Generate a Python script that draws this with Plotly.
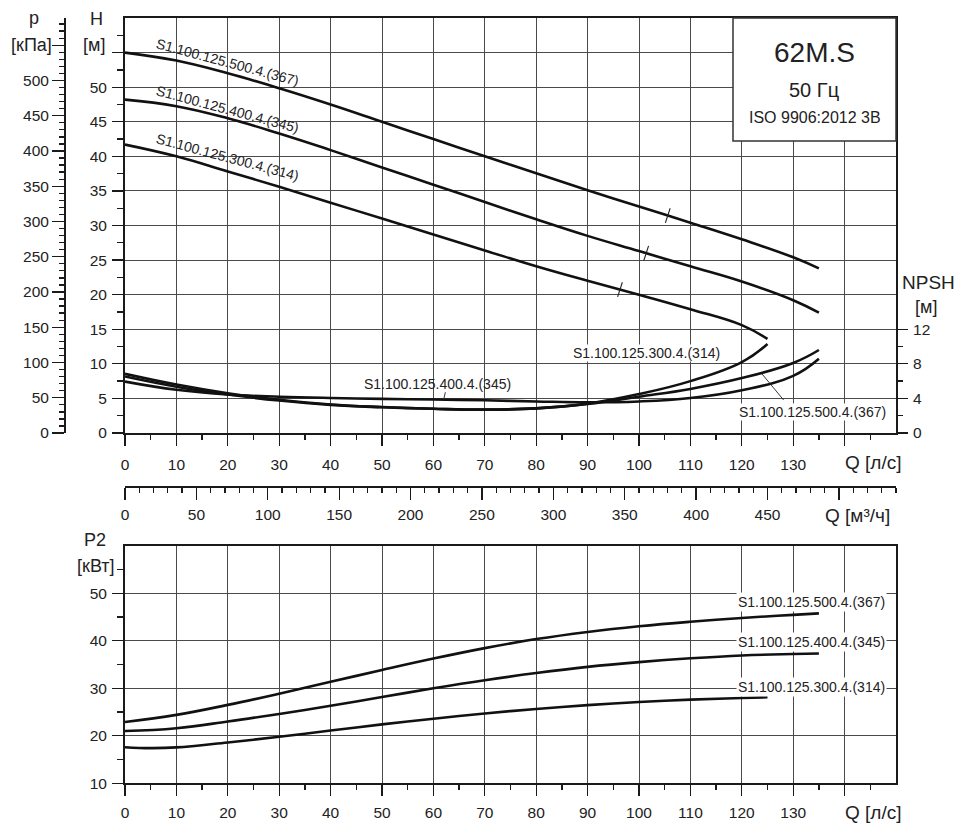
import numpy as np
import plotly.graph_objects as go

W, HGT = 959, 823
FONT = "Liberation Sans, Arial, sans-serif"
TXT = "#222222"
GRID = "#4a4a4a"
CURVE = "#111111"

# ---------------- data ----------------
curve_names = ["S1.100.125.500.4.(367)", "S1.100.125.400.4.(345)", "S1.100.125.300.4.(314)"]

# Flow rate Q [L/s]
q_300 = [0, 10, 20, 30, 40, 50, 60, 70, 80, 90, 100, 110, 120, 125]
q_big = [0, 10, 20, 30, 40, 50, 60, 70, 80, 90, 100, 110, 120, 130, 135]

# Head H [m]
h_500 = [55.0, 53.85, 52.0, 49.85, 47.5, 45.0, 42.5, 40.0, 37.55, 35.1, 32.75, 30.4, 28.0, 25.4, 23.8]
h_400 = [48.2, 47.25, 45.5, 43.3, 40.9, 38.4, 35.9, 33.4, 30.9, 28.5, 26.3, 24.1, 21.9, 19.2, 17.4]
h_300 = [41.7, 40.0, 37.8, 35.6, 33.3, 31.0, 28.7, 26.4, 24.1, 22.0, 20.0, 17.9, 15.6, 13.6]

# NPSH [m]
npsh_500 = [6.53, 5.35, 4.45, 3.75, 3.25, 2.98, 2.8, 2.7, 2.85, 3.35, 4.2, 5.1, 6.35, 8.1, 9.6]
npsh_400 = [5.95, 5.0, 4.45, 4.2, 4.05, 3.95, 3.87, 3.78, 3.65, 3.55, 3.65, 4.05, 4.95, 6.6, 8.58]
npsh_300 = [6.84, 5.6, 4.6, 3.85, 3.3, 3.0, 2.8, 2.7, 2.85, 3.4, 4.5, 6.0, 8.2, 10.3]

# Power P2 [kW]
q_p300 = [0, 5, 10, 20, 30, 40, 50, 60, 70, 80, 90, 100, 110, 120, 125]
p_300 = [17.6, 17.4, 17.55, 18.6, 19.8, 21.1, 22.4, 23.6, 24.7, 25.65, 26.45, 27.1, 27.6, 27.95, 28.1]
p_400 = [21.0, 21.6, 23.0, 24.6, 26.3, 28.15, 30.0, 31.7, 33.2, 34.5, 35.5, 36.3, 36.9, 37.2, 37.3]
p_500 = [22.9, 24.4, 26.5, 28.85, 31.35, 33.85, 36.25, 38.45, 40.35, 41.85, 43.05, 44.0, 44.8, 45.45, 45.75]

# Best-efficiency markers (Q [L/s])
bep_q = [105.6, 101.4, 96.3]

# axis ticks
q_ticks = list(range(0, 150, 10))
q_ticktext = [str(v) for v in q_ticks[:-1]] + [""]
m3h_ticks = list(range(0, 550, 50))
m3h_ticktext = [str(v) for v in m3h_ticks[:-1]] + [""]
h_ticks = list(range(0, 60, 5))
h_ticktext = [str(v) for v in h_ticks[:-1]] + [""]
kpa_ticks = list(range(0, 600, 50))
kpa_ticktext = [str(v) for v in kpa_ticks[:-1]] + [""]
npsh_ticks = [0, 4, 8, 12]
p2_ticks = [10, 20, 30, 40, 50]

RHO_G = 9.81
M3H_PER_LS = 3.6
Q_MAX = 150


def pxx(x):
    return x / W


def pxy(y):
    return 1 - y / HGT


fig = go.Figure()

line = dict(color=CURVE, width=2.6, shape="spline", smoothing=1.2)

# H curves
for q, h in [(q_big, h_500), (q_big, h_400), (q_300, h_300)]:
    fig.add_trace(go.Scatter(x=q, y=h, mode="lines", line=line, xaxis="x", yaxis="y",
                             hoverinfo="skip", showlegend=False))

# BEP slash markers on H curves
bep_h = [float(np.interp(bep_q[0], q_big, h_500)),
         float(np.interp(bep_q[1], q_big, h_400)),
         float(np.interp(bep_q[2], q_300, h_300))]
fig.add_trace(go.Scatter(x=bep_q, y=bep_h, mode="markers", xaxis="x", yaxis="y",
                         marker=dict(symbol="line-ns", size=11, angle=18,
                                     line=dict(color="#222", width=1.1)),
                         hoverinfo="skip", showlegend=False))

# NPSH curves
for q, n in [(q_big, npsh_500), (q_big, npsh_400), (q_300, npsh_300)]:
    fig.add_trace(go.Scatter(x=q, y=n, mode="lines", line=line, xaxis="x", yaxis="y3",
                             hoverinfo="skip", showlegend=False))

# P2 curves
for q, p in [(q_big, p_500), (q_big, p_400), (q_p300, p_300)]:
    fig.add_trace(go.Scatter(x=q, y=p, mode="lines", line=line, xaxis="x2", yaxis="y2",
                             hoverinfo="skip", showlegend=False))

# helper traces so the secondary scales are drawn
fig.add_trace(go.Scatter(x=[0], y=[0], mode="markers", marker=dict(opacity=0),
                         xaxis="x3", yaxis="y", hoverinfo="skip", showlegend=False))
fig.add_trace(go.Scatter(x=[0], y=[0], mode="markers", marker=dict(opacity=0),
                         xaxis="x", yaxis="y4", hoverinfo="skip", showlegend=False))

tickfont = dict(family=FONT, size=15.5, color=TXT)
common = dict(showline=True, linecolor="#1a1a1a", linewidth=2, ticks="outside",
              tickcolor="#1a1a1a", tickwidth=1.3, tickfont=tickfont,
              zeroline=False, automargin=False, fixedrange=True)

xdom = [pxx(125), pxx(896)]

fig.update_layout(
    width=W, height=HGT,
    margin=dict(l=0, r=0, t=0, b=0),
    paper_bgcolor="white", plot_bgcolor="white",
    showlegend=False,
    font=dict(family=FONT, color=TXT),
    xaxis=dict(domain=xdom, range=[0, Q_MAX], anchor="y", tickmode="array",
               tickvals=q_ticks, ticktext=q_ticktext, ticklen=11,
               minor=dict(tickvals=[v + 5 for v in q_ticks], ticklen=5, ticks="outside",
                          tickcolor="#1a1a1a", showgrid=False),
               showgrid=True, gridcolor=GRID, gridwidth=1, mirror=True,
               ticklabelstandoff=5, **common),
    yaxis=dict(domain=[pxy(433), pxy(18)], range=[0, 60], anchor="x", tickmode="array",
               tickvals=h_ticks, ticktext=h_ticktext, ticklen=11,
               minor=dict(tickvals=[v + 2.5 for v in h_ticks], ticklen=6, ticks="outside",
                          tickcolor="#1a1a1a", showgrid=False),
               showgrid=True, gridcolor=GRID, gridwidth=1, mirror=True,
               ticklabelstandoff=2, **common),
    yaxis3=dict(overlaying="y", anchor="x", side="right", range=[0, 48],
                tickmode="array", tickvals=npsh_ticks, ticklen=10,
                minor=dict(tickvals=[2, 6, 10], ticklen=5, ticks="outside",
                           tickcolor="#1a1a1a", showgrid=False),
                showgrid=False, ticklabelstandoff=2, **common),
    yaxis4=dict(overlaying="y", anchor="free", position=pxx(65), side="left",
                range=[0, 60 * RHO_G], tickmode="array", tickvals=kpa_ticks,
                ticktext=kpa_ticktext, ticklen=12,
                minor=dict(dtick=10, tick0=0, ticklen=5, ticks="outside",
                           tickcolor="#1a1a1a", showgrid=False),
                showgrid=False, ticklabelstandoff=0, **common),
    xaxis3=dict(overlaying="x", anchor="free", position=pxy(486.7), side="bottom",
                range=[0, Q_MAX * M3H_PER_LS], tickmode="array", tickvals=m3h_ticks,
                ticktext=m3h_ticktext, ticklen=12,
                minor=dict(dtick=10, tick0=0, ticklen=5, ticks="outside",
                           tickcolor="#1a1a1a", showgrid=False),
                showgrid=False, ticklabelstandoff=2, **common),
    xaxis2=dict(domain=xdom, range=[0, Q_MAX], anchor="y2", tickmode="array",
                tickvals=q_ticks, ticktext=q_ticktext, ticklen=11,
                minor=dict(tickvals=[v + 5 for v in q_ticks], ticklen=5, ticks="outside",
                           tickcolor="#1a1a1a", showgrid=False),
                showgrid=True, gridcolor=GRID, gridwidth=1, mirror=True,
                ticklabelstandoff=3, **common),
    yaxis2=dict(domain=[pxy(783.3), pxy(545.7)], range=[10, 60], anchor="x2",
                tickmode="array", tickvals=p2_ticks, ticklen=11,
                minor=dict(tickvals=[15, 25, 35, 45, 55], ticklen=6, ticks="outside",
                           tickcolor="#1a1a1a", showgrid=False),
                showgrid=True, gridcolor=GRID, gridwidth=1, mirror=True,
                ticklabelstandoff=2, **common),
)

ann = []


def label(text, x, y, size, **kw):
    d = dict(text=text, x=pxx(x), y=pxy(y), xref="paper", yref="paper",
             showarrow=False, font=dict(family=FONT, size=size, color=TXT),
             xanchor="center", yanchor="middle")
    d.update(kw)
    ann.append(d)


# axis unit titles
label("p", 34, 18, 18)
label("[кПа]", 31, 45, 18)
label("H", 96, 19, 18)
label("[м]", 94, 45, 18)
label("NPSH", 928, 282, 19)
label("[м]", 926, 307, 18)
label("Q [л/с]", 873, 462, 19)
label("Q [м³/ч]", 857, 515, 19)
label("P2", 95, 540, 18)
label("[кВт]", 96, 566, 18)
label("Q [л/с]", 873, 812, 19)

# info box text
label("62M.S", 814, 53, 28)
label("50 Гц", 814, 90, 20)
label("ISO 9906:2012 3B", 815, 117, 16)

# rotated H-curve labels
for name, (cx, cy) in zip(curve_names, [(227, 62), (227, 109), (227, 157)]):
    label(name, cx, cy, 14, textangle=15)

# NPSH labels
label(curve_names[2], 646, 353, 14, bgcolor="white", borderpad=0)
label(curve_names[1], 437, 384, 14)
label(curve_names[0], 812, 412, 14, bgcolor="white", borderpad=0)

# leader lines (arrows without heads pointing at curves)
q_lead400 = 62.0
ann.append(dict(x=q_lead400, y=float(np.interp(q_lead400, q_big, npsh_400)), xref="x", yref="y3",
                text="", showarrow=True, arrowhead=0, arrowwidth=0.9, arrowcolor="#222",
                ax=2, ay=-9, standoff=0))
q_lead500 = 123.7
ann.append(dict(x=q_lead500, y=float(np.interp(q_lead500, q_big, npsh_500)), xref="x", yref="y3",
                text="", showarrow=True, arrowhead=0, arrowwidth=0.9, arrowcolor="#222",
                ax=24, ay=29, standoff=0))

# P2 labels
label(curve_names[0], 811, 601.5, 14, bgcolor="white", borderpad=1)
label(curve_names[1], 811, 641.5, 14, bgcolor="white", borderpad=1)
label(curve_names[2], 811, 686.5, 14, bgcolor="white", borderpad=1)

fig.update_layout(annotations=ann)

# info box
fig.add_shape(type="rect", xref="paper", yref="paper",
              x0=pxx(733), x1=pxx(896), y0=pxy(141), y1=pxy(18),
              fillcolor="white", line=dict(color="#333", width=1.5), layer="above")

fig.write_html("out.html",
               config={"displayModeBar": False, "staticPlot": True},
               post_script="document.body.style.margin='0px';document.body.style.overflow='hidden';")
